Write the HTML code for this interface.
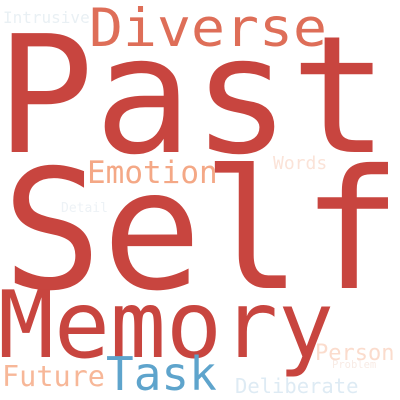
<!DOCTYPE html>
<html><head><meta charset="utf-8"><style>
html,body{margin:0;padding:0;background:#fff}
svg{display:block}
text{font-family:"DejaVu Sans Mono","Liberation Mono",monospace}
</style></head><body>
<svg width="400" height="400" viewBox="0 0 400 400">
<rect width="400" height="400" fill="#fff"/>
<text x="-4" y="152" font-size="163" fill="#c8453f">Past</text>
<text x="2" y="288" font-size="166" fill="#c8453f">Self</text>
<text x="-2" y="357" font-size="93" fill="#c8453f">Memory</text>
<text x="89" y="46" font-size="53" textLength="238" lengthAdjust="spacingAndGlyphs" fill="#de6e58">Diverse</text>
<text x="3" y="23" font-size="16" fill="#e9f0f4">Intrusive</text>
<text x="87" y="183" font-size="31" fill="#f4a886">Emotion</text>
<text x="273" y="169" font-size="18" fill="#fbe3d8">Words</text>
<text x="61" y="212" font-size="13" fill="#edf2f6">Detail</text>
<text x="315" y="360" font-size="22" fill="#fbdccd">Person</text>
<text x="332" y="368" font-size="10.5" fill="#f8ebe5">Problem</text>
<text x="2" y="386" font-size="28.5" fill="#f7b798">Future</text>
<text x="106" y="390" font-size="46" fill="#5ea4cc">Task</text>
<text x="235" y="393" font-size="20.5" fill="#deebf4">Deliberate</text>
</svg>
</body></html>
